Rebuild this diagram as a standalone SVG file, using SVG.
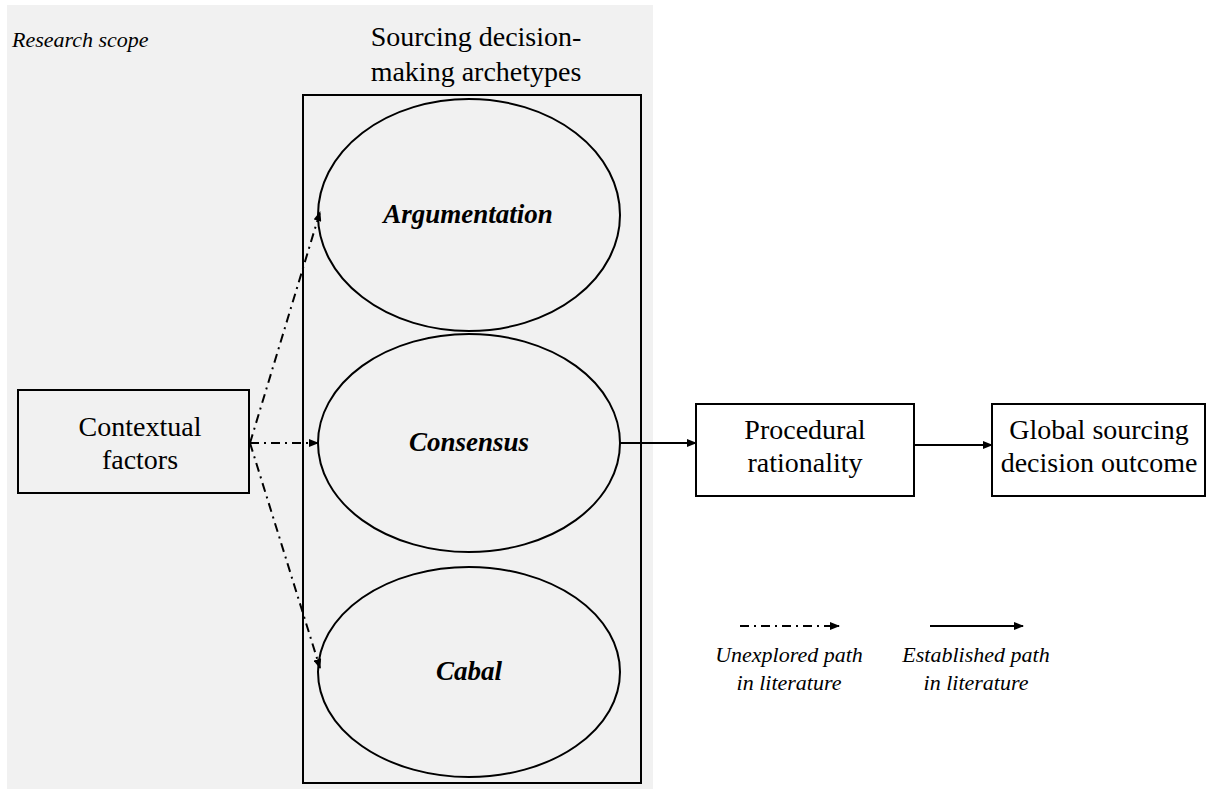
<svg xmlns="http://www.w3.org/2000/svg" width="1207" height="789" viewBox="0 0 1207 789">
<style>
.box{fill:none;stroke:#000;stroke-width:2}
.ell{fill:none;stroke:#000;stroke-width:2}
.t{font-family:"Liberation Serif","Times New Roman",serif;font-size:28px;fill:#000;text-anchor:middle}
.a{font-family:"Liberation Serif","Times New Roman",serif;font-size:27px;font-weight:bold;font-style:italic;fill:#000;text-anchor:middle}
.i{font-family:"Liberation Serif","Times New Roman",serif;font-size:22px;font-style:italic;fill:#000;text-anchor:middle}
.dd{fill:none;stroke:#000;stroke-width:2;stroke-dasharray:9,5,2,5}
.sl{fill:none;stroke:#000;stroke-width:2}
</style>
<defs>
<marker id="ah" markerWidth="10" markerHeight="8" refX="9" refY="4" orient="auto" markerUnits="userSpaceOnUse">
<path d="M0,0 L10,4 L0,8 Z" fill="#000"/>
</marker>
</defs>
<rect x="0" y="0" width="1207" height="789" fill="#fff"/>
<g id="scope">
<rect x="7" y="5" width="646" height="784" fill="#f1f1f1"/>
<text x="12" y="47" font-family="'Liberation Serif','Times New Roman',serif" font-size="22" font-style="italic">Research scope</text>
</g>
<g id="archetypes">
<text class="t" x="476" y="46">Sourcing decision-</text>
<text class="t" x="476" y="81">making archetypes</text>
<rect class="box" x="303" y="95" width="338" height="688"/>
</g>
<g id="argumentation">
<ellipse class="ell" cx="469" cy="215" rx="151" ry="116"/>
<text class="a" x="468" y="223">Argumentation</text>
</g>
<g id="consensus">
<ellipse class="ell" cx="469" cy="443" rx="151" ry="109"/>
<text class="a" x="469" y="451">Consensus</text>
</g>
<g id="cabal">
<ellipse class="ell" cx="469" cy="672" rx="151" ry="105"/>
<text class="a" x="469" y="680">Cabal</text>
</g>
<g id="contextual">
<rect class="box" x="18" y="390" width="231" height="103"/>
<text class="t" x="140" y="436">Contextual</text>
<text class="t" x="140" y="469">factors</text>
</g>
<g id="procedural">
<rect class="box" x="696" y="404" width="218" height="92"/>
<text class="t" x="805" y="439">Procedural</text>
<text class="t" x="805" y="472">rationality</text>
</g>
<g id="outcome">
<rect class="box" x="992" y="404" width="213" height="92"/>
<text class="t" x="1099" y="439">Global sourcing</text>
<text class="t" x="1099" y="472">decision outcome</text>
</g>
<g id="connectors">
<line class="dd" x1="250" y1="443" x2="320" y2="212" marker-end="url(#ah)"/>
<line class="dd" x1="250" y1="443" x2="318" y2="443" marker-end="url(#ah)"/>
<line class="dd" x1="250" y1="443" x2="320" y2="668" marker-end="url(#ah)"/>
<line class="sl" x1="620" y1="443" x2="696" y2="443" marker-end="url(#ah)"/>
<line class="sl" x1="914" y1="445" x2="992" y2="445" marker-end="url(#ah)"/>
</g>
<g id="legend">
<line class="dd" x1="740" y1="626" x2="839" y2="626" marker-end="url(#ah)"/>
<line class="sl" x1="930" y1="626" x2="1023" y2="626" marker-end="url(#ah)"/>
<text class="i" x="789" y="662">Unexplored path</text>
<text class="i" x="789" y="690">in literature</text>
<text class="i" x="976" y="662">Established path</text>
<text class="i" x="976" y="690">in literature</text>
</g>
</svg>
